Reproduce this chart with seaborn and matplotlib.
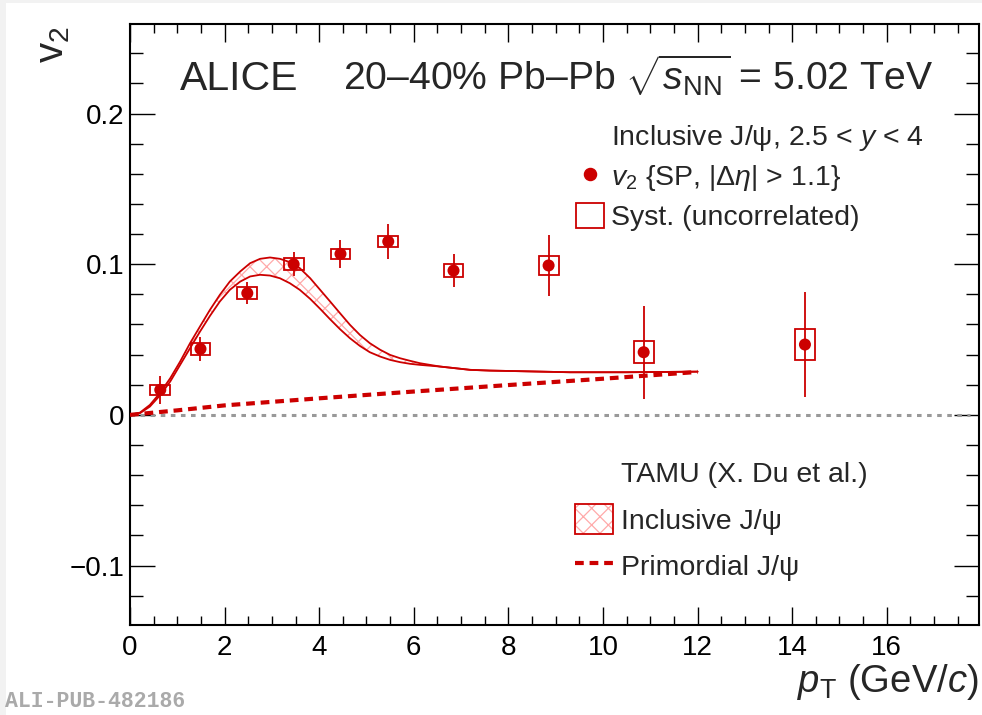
import numpy as np
import seaborn as sns
import matplotlib.pyplot as plt
from matplotlib.lines import Line2D
from matplotlib.patches import Patch, Rectangle
from matplotlib.ticker import MultipleLocator, FixedLocator
from matplotlib.legend_handler import HandlerTuple

# ALICE inclusive J/psi v2, 20-40% Pb-Pb
pt = [0.64, 1.49, 2.48, 3.46, 4.45, 5.46, 6.84, 8.85, 10.86, 14.27]
v2 = [0.0166, 0.0438, 0.0808, 0.1000, 0.1069, 0.1151, 0.0958, 0.0992, 0.0416, 0.0467]
stat = [0.0094, 0.0078, 0.0075, 0.0080, 0.0094, 0.0113, 0.0107, 0.0200, 0.0310, 0.0350]
syst = [0.0033, 0.0039, 0.0042, 0.0040, 0.0033, 0.0038, 0.0043, 0.0066, 0.0074, 0.0102]

# TAMU inclusive band (upper / lower edge)
band_pt = [0.0, 0.21, 0.42, 0.63, 0.85, 1.06, 1.27, 1.48, 1.69, 1.90, 2.11, 2.33, 2.54,
           2.75, 2.96, 3.17, 3.38, 3.59, 3.81, 4.02, 4.23, 4.44, 4.65, 4.86, 5.07, 5.29,
           5.50, 5.71, 5.92, 6.13, 6.55, 7.19, 7.61, 8.25, 9.30, 10.5, 12.0]
band_hi = [0.0, 0.0015, 0.0066, 0.0144, 0.0243, 0.0354, 0.0476, 0.0587, 0.0697, 0.0797,
           0.0885, 0.0952, 0.1007, 0.1036, 0.1045, 0.1036, 0.1014, 0.0974, 0.0907, 0.0830,
           0.0753, 0.0675, 0.0598, 0.0531, 0.0476, 0.0432, 0.0398, 0.0376, 0.0359, 0.0343,
           0.0321, 0.0299, 0.0294, 0.0290, 0.0283, 0.0283, 0.0287]
band_lo = [0.0, 0.0011, 0.0055, 0.0128, 0.0221, 0.0332, 0.0443, 0.0553, 0.0657, 0.0753,
           0.0830, 0.0885, 0.0919, 0.0930, 0.0925, 0.0907, 0.0874, 0.0830, 0.0770, 0.0704,
           0.0635, 0.0569, 0.0509, 0.0458, 0.0416, 0.0387, 0.0365, 0.0350, 0.0339, 0.0332,
           0.0321, 0.0299, 0.0294, 0.0290, 0.0283, 0.0283, 0.0287]

# TAMU primordial
prim_pt = [0, 1, 2, 4, 6, 8, 10, 12]
prim_v2 = [0.0, 0.0030, 0.0063, 0.0110, 0.0155, 0.0198, 0.0240, 0.0285]

red = '#cc0000'
pink = '#ffaaaa'
dash = (0, (2.1, 1.4))

sns.set_theme(style="ticks")
plt.rcParams['font.family'] = ['Liberation Sans', 'DejaVu Sans']
plt.rcParams['mathtext.fontset'] = 'custom'
plt.rcParams['mathtext.rm'] = 'Liberation Sans'
plt.rcParams['mathtext.it'] = 'Liberation Sans:italic'
plt.rcParams['mathtext.bf'] = 'Liberation Sans:bold'
plt.rcParams['hatch.linewidth'] = 0.9

fig = plt.figure(figsize=(9.82, 7.15), dpi=100)
fig.patch.set_facecolor('#f2f2f2')
fig.patches.append(Rectangle((6 / 982, 0), 1, 712 / 715, transform=fig.transFigure,
                             facecolor='white', edgecolor='none', zorder=-10))
ax = fig.add_axes([130 / 982, 90 / 715, 849 / 982, 601 / 715])
ax.set_facecolor('white')

# zero line
ax.axhline(0, xmin=0, xmax=17.75 / 17.95, color='#999999', lw=2.2, ls=(0, (1.5, 1.8)), zorder=1)

# model band
ax.fill_between(band_pt, band_lo, band_hi, facecolor='none', edgecolor=pink,
                hatch='xx', linewidth=0, zorder=2)
sns.lineplot(x=band_pt, y=band_hi, ax=ax, color=red, linewidth=1.3, zorder=3)
sns.lineplot(x=band_pt, y=band_lo, ax=ax, color=red, linewidth=1.3, zorder=3)
sns.lineplot(x=prim_pt, y=prim_v2, ax=ax, color=red, linewidth=3.0,
             linestyle=dash, zorder=3)

# data
lo = [v - s for v, s in zip(v2, syst)]
ax.bar(pt, [2 * s for s in syst], bottom=lo, width=0.42, fill=False,
       edgecolor=red, linewidth=1.3, zorder=4)
ax.errorbar(pt, v2, yerr=stat, fmt='none', ecolor=red, elinewidth=1.3, capsize=0, zorder=5)
sns.scatterplot(x=pt, y=v2, ax=ax, color=red, s=75, edgecolor='none', zorder=6)

ax.set_xlim(0, 17.95)
ax.set_ylim(-0.1395, 0.2595)

ax.xaxis.set_major_locator(MultipleLocator(2))
ax.xaxis.set_minor_locator(MultipleLocator(0.5))
ax.yaxis.set_major_locator(FixedLocator([-0.1, 0, 0.1, 0.2]))
ax.yaxis.set_minor_locator(MultipleLocator(0.02))
ax.set_yticklabels(['\u22120.1', '0', '0.1', '0.2'])
ax.set_xticklabels([str(int(t)) for t in ax.get_xticks()])

ax.tick_params(axis='both', which='both', direction='in', top=True, right=True,
               colors='black', labelsize=20, width=1.0)
ax.tick_params(axis='x', which='major', length=13, pad=7)
ax.tick_params(axis='x', which='minor', length=6.5)
ax.tick_params(axis='y', which='major', length=18, pad=4)
ax.tick_params(axis='y', which='minor', length=9.5)
for sp in ax.spines.values():
    sp.set_linewidth(1.5)
    sp.set_color('black')

ax.set_xlabel(r'$p_{\mathrm{T}}$ (GeV/$c$)', fontsize=27.5, loc='right')
ax.xaxis.set_label_coords(1.0, -0.062)
ax.set_ylabel(r'$\mathrm{v}_{2}$', fontsize=29, loc='top')
ax.yaxis.set_label_coords(-0.068, 0.996)

ax.text(0.0589, 0.890, 'ALICE', transform=ax.transAxes, fontsize=29.5, va='baseline')
ax.text(0.2509, 0.890, r'20–40% Pb–Pb $\sqrt{s_{\mathrm{NN}}}$ = 5.02 TeV',
        transform=ax.transAxes, fontsize=28.2, va='baseline')

# legends
h_head = Line2D([], [], linestyle='none')
h_pt = Line2D([], [], marker='o', color=red, linestyle='none', markersize=8.7)
h_sys = Patch(facecolor='none', edgecolor=red, linewidth=1.3)
leg1 = ax.legend([h_head, h_pt, h_sys],
                 ['Inclusive J/ψ, 2.5 < $y$ < 4', r'$v_{2}$ {SP, |$\Delta\eta$| > 1.1}',
                  'Syst. (uncorrelated)'],
                 loc='upper left', bbox_to_anchor=((576 - 130) / 849, (625 - 123) / 601),
                 frameon=False, fontsize=20.5, borderpad=0, borderaxespad=0,
                 handlelength=1.0, handleheight=1.0, handletextpad=0.22, labelspacing=0.33)
ax.add_artist(leg1)

h_head2 = Line2D([], [], linestyle='none')
h_band = (Patch(facecolor='none', edgecolor=pink, hatch='xx', linewidth=0),
          Patch(facecolor='none', edgecolor=red, linewidth=1.3))
h_prim = Line2D([], [], color=red, linewidth=3.0, linestyle=dash)
ax.legend([h_head2, h_band, h_prim],
          ['TAMU (X. Du et al.)', 'Inclusive J/ψ', 'Primordial J/ψ'],
          handler_map={tuple: HandlerTuple(ndivide=1, pad=0)},
          loc='upper left', bbox_to_anchor=((575 - 130) / 849, (625 - 458) / 601),
          frameon=False, fontsize=20.5, borderpad=0, borderaxespad=0,
          handlelength=1.33, handleheight=1.2, handletextpad=0.29, labelspacing=0.57)

fig.text(5 / 982, 3 / 715, 'ALI-PUB-482186', fontsize=15.5, color='#aaaaaa',
         family=['Liberation Mono', 'DejaVu Sans Mono'], weight='bold', va='bottom')

fig.savefig('out.png', dpi=100)
